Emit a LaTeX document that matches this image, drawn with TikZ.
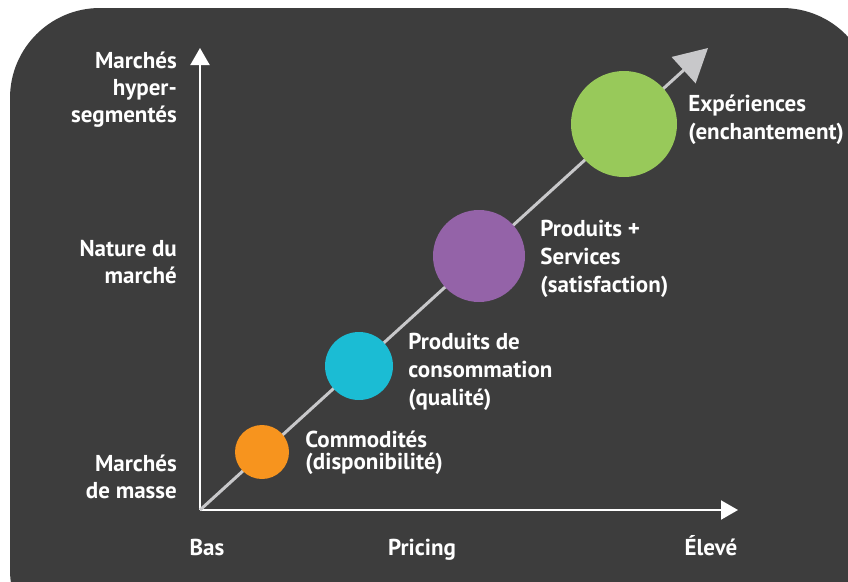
\documentclass[tikz,border=0pt]{standalone}
\usepackage{fontspec}
\setmainfont{PT Sans}
\usepackage{xcolor}
\definecolor{Dark}{RGB}{61,61,61}
\definecolor{Grey}{RGB}{200,200,202}
\definecolor{Orange}{RGB}{247,148,30}
\definecolor{Cyan}{RGB}{27,188,212}
\definecolor{Purple}{RGB}{148,99,168}
\definecolor{Green}{RGB}{152,201,90}
\definecolor{White}{RGB}{255,255,255}
\usetikzlibrary{arrows.meta, positioning}

\begin{document}
\begin{tikzpicture}[x=1pt, y=-1pt,
		axistext/.style={align=right, anchor=east, inner sep=0pt, color=White, font=\fontsize{23}{27}\selectfont\bfseries},
		pricetext/.style={anchor=base, inner sep=0pt, color=White, font=\fontsize{23}{27}\selectfont\bfseries},
		bubbletext/.style={align=left, inner sep=0pt, color=White, font=\fontsize{23}{28}\selectfont\bfseries},
		bubble/.style={circle, inner sep=0pt, draw=none, minimum size=#1}]
		
		% Frame
		\useasboundingbox (0,0) rectangle (848,581);
		\clip (0,0) rectangle (848,581);
		\fill[White] (0,0) rectangle (848,581);
		\fill[Dark, rounded corners=90pt] (10,8) rectangle (872,660);
		
		% Axes
		\coordinate (origin) at (200,510);
		\coordinate (ytop) at (200,48);
		\coordinate (xend) at (738,510);
		\coordinate (dtip) at (708,48);
		\draw[-{Triangle[length=17pt, width=19pt]}, draw=White, line width=2pt] (origin) -- (ytop);
		\draw[-{Triangle[length=17pt, width=19pt]}, draw=White, line width=2pt] (origin) -- (xend);
		\draw[-{Triangle[length=33pt, width=35pt]}, draw=Grey, line width=3pt] (origin) -- (dtip);
		
		% Bubbles
		\node[bubble=54pt, fill=Orange] (commodites) at (262,452) {};
		\node[bubble=68pt, fill=Cyan] (consommation) at (359,366) {};
		\node[bubble=92pt, fill=Purple] (services) at (479,256) {};
		\node[bubble=106pt, fill=Green] (experiences) at (624,124) {};
		
		% Names
		\node[bubbletext, right=16pt of commodites, yshift=-1pt, font=\fontsize{23}{22}\selectfont\bfseries] (commoditestext) {Commodités\\(disponibilité)};
		\node[bubbletext, right=15pt of consommation, yshift=-6pt] (consommationtext) {Produits de\\consommation\\(qualité)};
		\node[bubbletext, right=15pt of services, yshift=-3pt] (servicestext) {Produits +\\Services\\(satisfaction)};
		\node[bubbletext, right=11pt of experiences, yshift=4pt] (experiencestext) {Expériences\\(enchantement)};
		
		% Axis names
		\node[axistext] (hyper) at (177,90) {Marchés\\hyper-\\segmentés};
		\node[axistext] (nature) at (177,262) {Nature du\\marché};
		\node[axistext] (masse) at (177,477) {Marchés\\de masse};
		
		\node[pricetext] (bas) at (207,555) {Bas};
		\node[pricetext] (pricing) at (422,555) {Pricing};
		\node[pricetext] (eleve) at (711,555) {Élevé};
		
	\end{tikzpicture}
\end{document}
